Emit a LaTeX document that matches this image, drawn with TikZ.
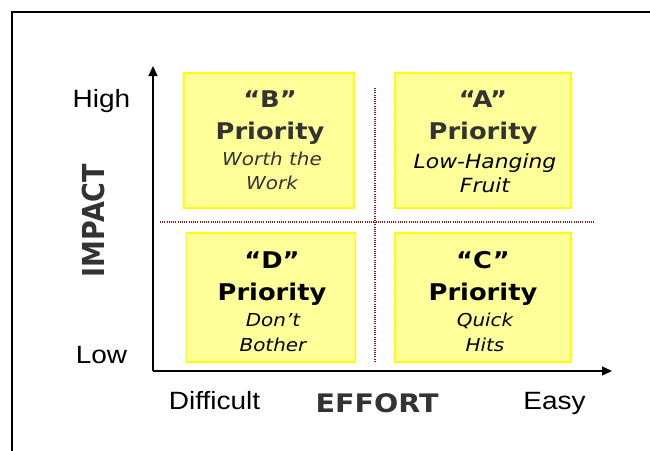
\documentclass[tikz,border=0pt]{standalone}
\usepackage{fontspec}
\usepackage{graphicx}
\usetikzlibrary{arrows.meta}
\newfontfamily\vfont[FakeStretch=1.12]{DejaVu Sans}
\newfontfamily\vplain{DejaVu Sans}
\newfontfamily\afont[FakeStretch=1.12]{Liberation Sans}
\definecolor{boxfill}{HTML}{FFFF99}
\definecolor{boxline}{HTML}{FFFF00}
\definecolor{dotred}{HTML}{8B1A1A}
\definecolor{darktext}{HTML}{333333}
\tikzset{
  quad/.style={draw=boxline, fill=boxfill, line width=1.5pt},
  ln/.style={inner sep=0pt, anchor=base},
  head/.style={ln, font=\vfont\bfseries\fontsize{23}{23}\selectfont},
  sub/.style={ln, font=\vfont\itshape\fontsize{17.8}{18}\selectfont},
  suba/.style={ln, font=\vfont\itshape\fontsize{19.5}{20}\selectfont},
  axislbl/.style={ln, font=\afont\fontsize{25}{25}\selectfont},
  axis/.style={line width=1.3pt, -{Triangle[length=10pt,width=9pt]}},
  divider/.style={draw=dotred, line width=1.1pt, dash pattern=on 1pt off 1.2pt}
}
\begin{document}
\begin{tikzpicture}[x=1pt,y=-1pt]
\useasboundingbox (0,0) rectangle (650,450);
\clip (0,0) rectangle (650,450);
\fill[white] (0,0) rectangle (650,450);
% frame
\coordinate (fbl) at (12,452);
\coordinate (ftl) at (12,12);
\coordinate (ftr) at (652,12);
\draw[line width=1.5pt] (fbl) -- (ftl) -- (ftr);
% dividers
\coordinate (vtop) at (375,88);
\coordinate (vbot) at (375,363);
\coordinate (hl) at (160,222);
\coordinate (hr) at (594,222);
\draw[divider] (vtop) -- (vbot);
\draw[divider] (hl) -- (hr);
% boxes
\node[quad, minimum width=170pt, minimum height=135pt] (boxB) at (269,140.5) {};
\node[quad, minimum width=176pt, minimum height=135pt] (boxA) at (483,140.5) {};
\node[quad, minimum width=169pt, minimum height=129pt] (boxD) at (271,297.5) {};
\node[quad, minimum width=176pt, minimum height=129pt] (boxC) at (483,297.5) {};
% axes
\coordinate (origin) at (153,371);
\coordinate (ytip) at (153,66);
\coordinate (xtip) at (612,371);
\draw[axis] (origin) -- (ytip);
\draw[axis] (origin) -- (xtip);
% box B
\node[head, text=darktext] (bq) at (270,107) {“B”};
\node[head, text=darktext] (bp) at (270,139) {Priority};
\node[sub, text=darktext] (b1) at (272,165) {Worth the};
\node[sub, text=darktext] (b2) at (272,189) {Work};
% box A
\node[head, text=darktext] (aq) at (483,107) {“A”};
\node[head, text=darktext] (ap) at (483,139) {Priority};
\node[suba] (a1) at (485,168) {Low-Hanging};
\node[suba] (a2) at (485,192) {Fruit};
% box D
\node[head] (dq) at (272,268) {“D”};
\node[head] (dp) at (272,300) {Priority};
\node[sub] (d1) at (273,326) {Don’t};
\node[sub] (d2) at (273,351) {Bother};
% box C
\node[head] (cq) at (483,268) {“C”};
\node[head] (cp) at (483,300) {Priority};
\node[sub] (c1) at (485,326) {Quick};
\node[sub] (c2) at (485,351) {Hits};
% axis labels
\node[axislbl] (high) at (101.5,107) {High};
\node[axislbl] (low) at (101.5,363) {Low};
\node[axislbl] (diff) at (214.5,409) {Difficult};
\node[axislbl] (easy) at (554.5,409) {Easy};
\node[ln, text=darktext, font=\vfont\bfseries\fontsize{25.5}{25.5}\selectfont] (effort) at (377,412) {EFFORT};
\node[inner sep=0pt, text=darktext] (impact) at (93,220.5)
  {\scalebox{1.12}[1]{\rotatebox{90}{\vplain\bfseries\fontsize{27}{27}\selectfont IMPACT}}};
\end{tikzpicture}
\end{document}
